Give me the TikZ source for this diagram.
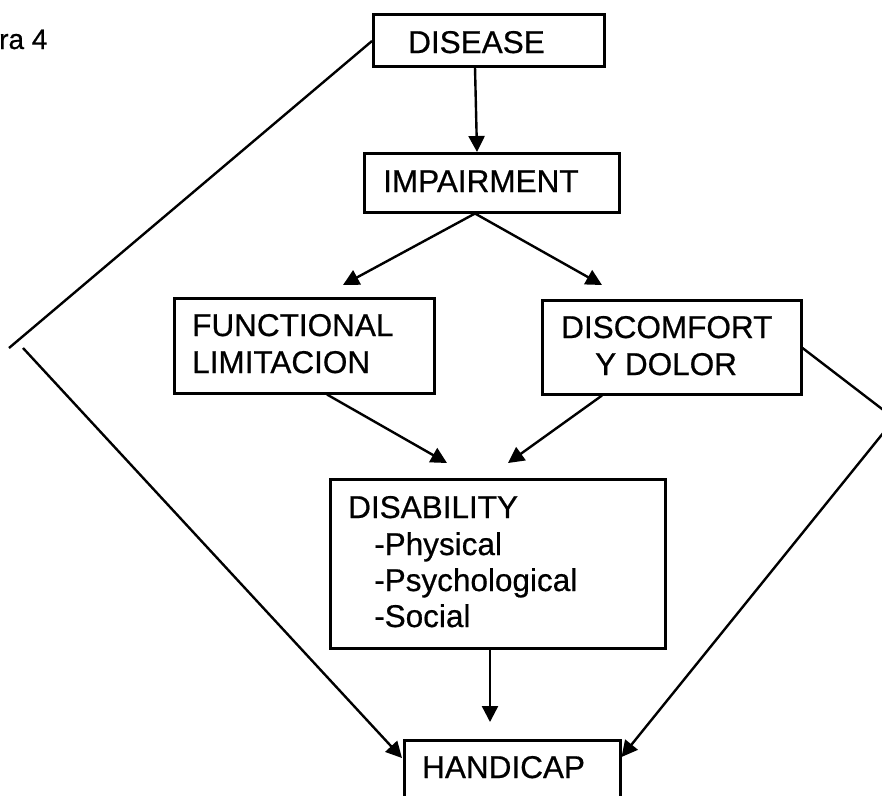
\documentclass[tikz,border=0pt]{standalone}
\usepackage{fontspec}
\setmainfont{Liberation Sans}[FakeBold=0.6]
\usetikzlibrary{arrows.meta}
\begin{document}
\begin{tikzpicture}[x=1pt,y=-1pt,
  box/.style={draw, line width=2.5pt, rectangle, inner sep=0pt, anchor=north west},
  lbl/.style={anchor=base west, inner sep=0pt, font=\fontsize{31.5}{37}\selectfont},
  conn/.style={line width=2.4pt},
  arr/.style={conn, -{Triangle[length=16pt,width=16pt]}}]
\useasboundingbox (0,0) rectangle (882,795);
\clip (0,0) rectangle (882,795);
\fill[white] (0,0) rectangle (882,795);

% caption fragment
\node[anchor=base west, inner sep=0pt, font=\fontsize{28}{32}\selectfont] (fig) at (-1,49) {ra 4};

% boxes
\node[box, minimum width=231pt, minimum height=52pt] (disease) at (372,13) {};
\node[box, minimum width=255pt, minimum height=59pt] (impair) at (363,152) {};
\node[box, minimum width=260pt, minimum height=95pt] (func) at (173,297) {};
\node[box, minimum width=259pt, minimum height=94pt] (disc) at (541,299) {};
\node[box, minimum width=335pt, minimum height=169pt] (disab) at (329,478) {};
\node[box, minimum width=216pt, minimum height=90pt] (hand) at (403,739) {};

% texts
\node[lbl] (tdisease) at (408,53) {DISEASE};
\node[lbl] (timpair) at (383,192) {IMPAIRMENT};
\node[lbl] (tfunc1) at (192,336) {FUNCTIONAL};
\node[lbl] (tfunc2) at (192,373) {LIMITACION};
\node[lbl] (tdisc1) at (561,338) {DISCOMFORT};
\node[lbl] (tdisc2) at (595,375) {Y DOLOR};
\node[lbl] (tdisab) at (348,518) {DISABILITY};
\node[lbl] (tphys) at (374,555) {-Physical};
\node[lbl] (tpsy) at (374,591) {-Psychological};
\node[lbl] (tsoc) at (374,627) {-Social};
\node[lbl] (thand) at (422,778) {HANDICAP};

% free ends of the outer connectors
\coordinate (L1) at (9,348);
\coordinate (L2) at (23,348);
\coordinate (R1) at (884,410.5);
\coordinate (R2) at (884,432);

% connectors
\draw[arr] ([xshift=103pt]disease.south west) -- ([xshift=114pt]impair.north west);
\draw[arr] ([xshift=112pt]impair.south west) -- ([xshift=170pt,yshift=12pt]func.north west);
\draw[arr] ([xshift=112pt]impair.south west) -- ([xshift=61pt,yshift=14pt]disc.north west);
\draw[arr] ([xshift=154pt]func.south west) -- ([xshift=118pt,yshift=15pt]disab.north west);
\draw[arr] ([xshift=61pt]disc.south west) -- ([xshift=179pt,yshift=15pt]disab.north west);
\draw[arr] ([xshift=161pt]disab.south west) -- ([xshift=87pt,yshift=17pt]hand.north west);

\draw[conn] ([yshift=-28pt]disease.north west) -- (L1);
\draw[arr] (L2) -- ([xshift=-1pt,yshift=-19pt]hand.north west);
\draw[conn] ([yshift=-49pt]disc.north east) -- (R1);
\draw[arr] (R2) -- ([yshift=-18pt]hand.north east);
\end{tikzpicture}
\end{document}
